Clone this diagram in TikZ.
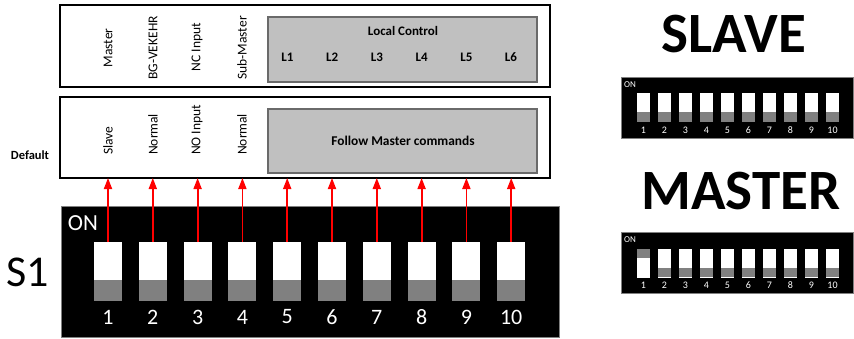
\documentclass[tikz,border=0pt]{standalone}
\usepackage{fontspec}
\setmainfont{Carlito}
\usetikzlibrary{arrows.meta}
\definecolor{boxgray}{HTML}{C0C0C0}
\definecolor{swgray}{HTML}{808080}
\definecolor{edgegray}{HTML}{6A6A6A}
\begin{document}
\begin{tikzpicture}[x=1pt,y=-1pt,
  panel/.style={draw=black,line width=2pt,fill=white,inner sep=0pt,outer sep=0pt},
  graybox/.style={draw=edgegray,line width=1.3pt,fill=boxgray,inner sep=0pt,outer sep=0pt},
  dip/.style={draw=swgray,line width=0.6pt,fill=black,inner sep=0pt,outer sep=0pt},
  swbody/.style={fill=white,inner sep=0pt,outer sep=0pt,minimum width=28pt,minimum height=59pt},
  smallsw/.style={fill=white,inner sep=0pt,outer sep=0pt,minimum width=13pt,minimum height=29pt},
  vlbl/.style={rotate=90,font=\fontsize{13.5}{16}\selectfont,inner sep=0pt},
  blbl/.style={font=\fontsize{13}{15}\selectfont\bfseries,inner sep=0pt},
  smalltxt/.style={white,font=\fontsize{10}{12}\selectfont,inner sep=0pt},
  arr/.style={red,line width=1.8pt,-{Triangle[length=11pt,width=8pt]}},
]
\useasboundingbox (0,0) rectangle (854,338);

% top box
\node[panel,minimum width=490pt,minimum height=82pt] (box1) at (305,46) {};
\node[graybox,minimum width=269pt,minimum height=65pt] (gray1) at (402.5,49.5) {};
\node[blbl] (lc) at (403,31) {Local Control};
\foreach \i in {1,...,6}{
  \pgfmathsetmacro\xx{287.5+44.7*(\i-1)}
  \node[blbl] (L\i) at (\xx,57) {L\i};
}
\node[vlbl] (t1) at (108,48) {Master};
\node[vlbl] (t2) at (153,48) {BG-VEKEHR};
\node[vlbl] (t3) at (197,47) {NC Input};
\node[vlbl] (t4) at (242,48) {Sub-Master};

% bottom box
\node[panel,minimum width=490pt,minimum height=81pt] (box2) at (305,137.5) {};
\node[graybox,minimum width=269pt,minimum height=64pt] (gray2) at (402.5,141) {};
\node[blbl,font=\fontsize{13.4}{16}\selectfont\bfseries] (fm) at (403,141) {Follow Master commands};
\node[vlbl,anchor=west] (b1) at (108,155) {Slave};
\node[vlbl,anchor=west] (b2) at (153,155) {Normal};
\node[vlbl,anchor=west] (b3) at (197,155) {NO Input};
\node[vlbl,anchor=west] (b4) at (242,155) {Normal};
\node[blbl,font=\fontsize{12.5}{14}\selectfont\bfseries] (def) at (30,155) {Default};

% main DIP switch
\node[dip,minimum width=498pt,minimum height=131pt] (dipmain) at (310,271.5) {};
\node[white,font=\fontsize{23}{27}\selectfont,inner sep=0pt] (on) at (83,223) {ON};
\node[font=\fontsize{44}{52}\selectfont,inner sep=0pt] (s1lbl) at (28,272) {S1};
\foreach \i in {1,...,10}{
  \pgfmathsetmacro\xx{108+44.8*(\i-1)}
  \node[swbody] (m\i) at (\xx,271.5) {};
  \fill[swgray] (\xx-14,280) rectangle (\xx+14,301);
  \node[white,font=\fontsize{22}{26}\selectfont,inner sep=0pt] (mn\i) at (\xx,317) {\i};
  \draw[arr] (m\i.north) -- (m\i.north |- box2.south);
}

% SLAVE
\node[font=\fontsize{57}{64}\selectfont\bfseries,inner sep=0pt] (slave) at (734,34) {SLAVE};
\node[dip,minimum width=232pt,minimum height=61pt] (dipslave) at (737,107.5) {};
\node[smalltxt,font=\fontsize{9}{11}\selectfont] (son) at (630,85) {ON};
\foreach \i in {1,...,10}{
  \pgfmathsetmacro\xx{643.5+21*(\i-1)}
  \node[smallsw] (ss\i) at (\xx,107.5) {};
  \fill[swgray] (\xx-6.5,112) rectangle (\xx+6.5,122);
  \node[smalltxt] (sn\i) at (\xx,130) {\i};
}

% MASTER
\node[font=\fontsize{57}{64}\selectfont\bfseries,inner sep=0pt] (master) at (741,191) {MASTER};
\node[dip,minimum width=232pt,minimum height=61pt] (dipmaster) at (737,262.5) {};
\node[smalltxt,font=\fontsize{9}{11}\selectfont] (mon) at (630,240) {ON};
\foreach \i in {1,...,10}{
  \pgfmathsetmacro\xx{643.5+21*(\i-1)}
  \node[smallsw] (ms\i) at (\xx,263) {};
  \ifnum\i=1
    \fill[swgray] (\xx-6.5,249) rectangle (\xx+6.5,258);
  \else
    \fill[swgray] (\xx-6.5,268) rectangle (\xx+6.5,277);
  \fi
  \node[smalltxt] (msn\i) at (\xx,285) {\i};
}
\end{tikzpicture}
\end{document}
